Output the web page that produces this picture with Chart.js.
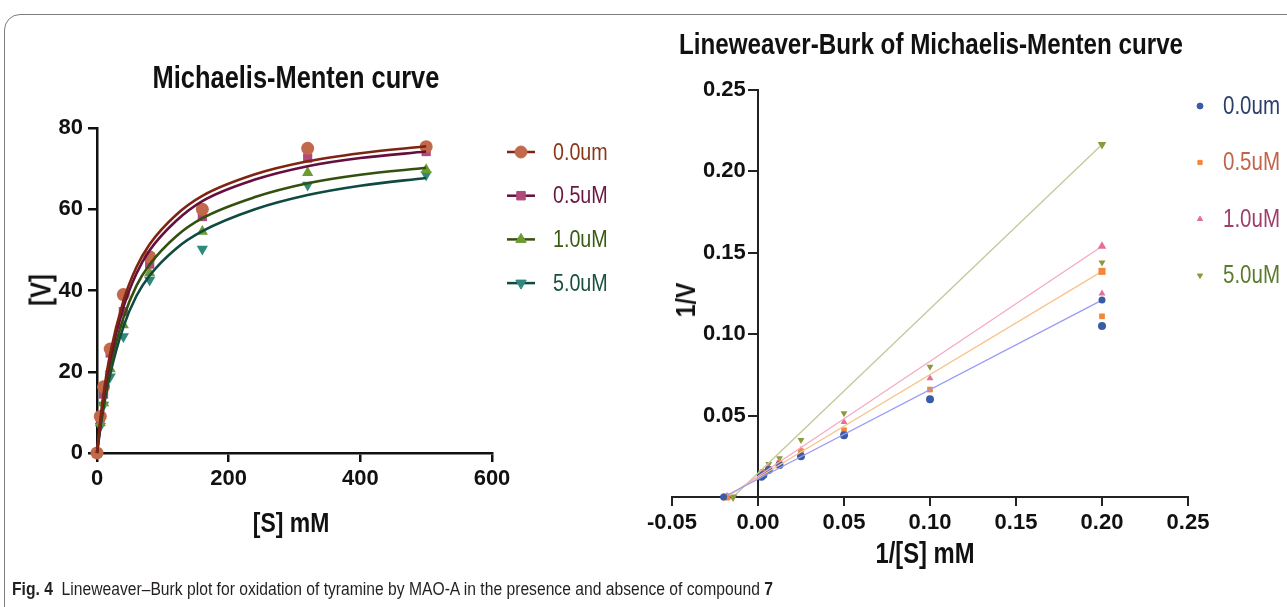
<!DOCTYPE html>
<html>
<head>
<meta charset="utf-8">
<script src="https://cdn.jsdelivr.net/npm/chart.js@4.4.1/dist/chart.umd.min.js"></script>
<style>
  body { margin: 0; background: #fff; width: 1287px; height: 607px; overflow: hidden; position: relative; }
  #frame { position: absolute; left: 4px; top: 14px; width: 1400px; height: 700px; border: 1.5px solid #7d7d7d; border-top-left-radius: 16px; box-sizing: border-box; }
  canvas { position: absolute; left: 0; top: 0; }
  .t { position: absolute; font-family: 'Liberation Sans', Arial, sans-serif; font-weight: bold; color: #111; white-space: nowrap; transform: translate(-50%, -50%) scaleX(0.82); }
  .rot { transform: translate(-50%, -50%) rotate(-90deg) scaleX(0.82); }
  #caption { position: absolute; left: 12px; top: 579px; font-family: 'Liberation Sans', Arial, sans-serif; font-size: 17.5px; color: #231f20; white-space: nowrap; transform: scaleX(0.895); transform-origin: 0 0; }
</style>
</head>
<body>
<div id="frame"></div>
<canvas id="mm" width="1287" height="607"></canvas>
<canvas id="lb" width="1287" height="607"></canvas>

<div class="t" style="left:296px; top:78px; font-size:31px;">Michaelis-Menten curve</div>
<div class="t" style="left:931px; top:44px; font-size:29.5px;">Lineweaver-Burk of Michaelis-Menten curve</div>
<div class="t rot" style="left:41px; top:290px; font-size:29px;">[V]</div>
<div class="t" style="left:291px; top:523px; font-size:28px;">[S] mM</div>
<div class="t rot" style="left:686px; top:300px; font-size:28px;">1/V</div>
<div class="t" style="left:925px; top:553px; font-size:29px;">1/[S] mM</div>
<div id="caption"><b>Fig. 4</b>&nbsp; Lineweaver–Burk plot for oxidation of tyramine by MAO-A in the presence and absence of compound <b>7</b></div>

<script>
const FONT = "'Liberation Sans', Arial, sans-serif";

const seriesNames = ['0.0um', '0.5uM', '1.0uM', '5.0uM'];

// Michaelis-Menten: measured points
const sConc = [0, 5, 10, 20, 40, 80, 160, 320, 500];
const v00 = [0, 9.0, 16.3, 25.6, 39.0, 48.3, 60.0, 75.0, 75.4];
const v05 = [0, 8.6, 14.5, 24.6, 34.8, 46.5, 58.2, 72.6, 74.2];
const v10 = [0, 7.4, 12.3, 20.7, 31.5, 44.3, 54.5, 69.0, 69.7];
const v50 = [0, 6.6, 11.8, 18.8, 28.7, 42.6, 50.2, 66.0, 68.5];

// Michaelis-Menten: fitted curves
const sFit = [0, 5, 10, 20, 40, 60, 80, 120, 160, 240, 320, 400, 500];
const fit00 = [0, 8.0, 14.6, 24.4, 37.4, 45.8, 51.4, 58.6, 63.3, 68.6, 71.8, 73.8, 75.5];
const fit05 = [0, 7.4, 13.6, 23.0, 35.8, 44.2, 49.9, 57.1, 62.0, 67.3, 70.6, 72.6, 74.2];
const fit10 = [0, 6.6, 12.2, 21.0, 33.2, 41.2, 46.4, 53.3, 57.8, 63.0, 66.4, 68.5, 70.2];
const fit50 = [0, 6.0, 11.2, 19.4, 31.0, 38.7, 43.7, 50.3, 54.6, 60.0, 63.5, 65.8, 67.7];

// Lineweaver-Burk: 1/[S] and 1/V points
const invS = [0.2, 0.1, 0.05, 0.025, 0.0125, 0.00625, 0.003125, 0.002];
const inv00 = [0.105, 0.060, 0.038, 0.025, 0.0197, 0.0166, 0.0135, 0.0125];
const inv05 = [0.111, 0.066, 0.041, 0.028, 0.0210, 0.0172, 0.0145, 0.0135];
const inv10 = [0.125, 0.073, 0.046, 0.029, 0.0217, 0.0180, 0.0150, 0.0140];
const inv50 = [0.144, 0.080, 0.0515, 0.035, 0.0238, 0.0203, 0.0160, 0.0150];

// Lineweaver-Burk fitted lines: from x-intercept to 1/[S] = 0.2
const lbX00 = [-0.0200, 0.2], lbY00 = [0, 0.121];
const lbX05 = [-0.0186, 0.2], lbY05 = [0, 0.1386];
const lbX10 = [-0.0180, 0.2], lbY10 = [0, 0.154];
const lbX50 = [-0.0145, 0.2], lbY50 = [0, 0.2165];

const yTicksMM = [0, 20, 40, 60, 80];
const xTicksMM = [0, 200, 400, 600];

const pts = (xs, ys) => xs.map((x, i) => ({ x: x, y: ys[i] }));

// left chart styles
const mmMarker = ['#c2694b', '#b14a7b', '#6c9a33', '#2e8a7b'];
const mmLine = ['#7f2410', '#660f3f', '#34500f', '#0e4a40'];
const mmText = ['#8a3618', '#6a1842', '#3a5a12', '#17503f'];
const mmStyle = [['circle', 0], ['rect', 0], ['triangle', 0], ['triangle', 180]];

// right chart styles
const lbMarker = ['#3a5ca6', '#f2873a', '#e2709b', '#8c9a3c'];
const lbLine = ['#9a9cf4', '#f8c48e', '#f5abc6', '#c6c99c'];
const lbText = ['#2b3f6b', '#c0654a', '#9e3f6a', '#5a7a2c'];

function legendPlugin(id, cfg) {
  return {
    id: id,
    afterDraw(chart) {
      const ctx = chart.ctx;
      ctx.save();
      seriesNames.forEach((name, i) => {
        const y = cfg.y0 + i * cfg.dy;
        if (cfg.lineColors) {
          ctx.strokeStyle = cfg.lineColors[i];
          ctx.lineWidth = 2.5;
          ctx.beginPath();
          ctx.moveTo(cfg.x - 14, y);
          ctx.lineTo(cfg.x + 14, y);
          ctx.stroke();
        }
        ctx.fillStyle = cfg.markers[i];
        ctx.strokeStyle = cfg.markers[i];
        ctx.lineWidth = 1;
        Chart.helpers.drawPoint(ctx, { pointStyle: cfg.styles[i][0], rotation: cfg.styles[i][1], radius: cfg.r, borderWidth: 1 }, cfg.x, y);
        ctx.save();
        ctx.translate(cfg.tx, y + 1);
        ctx.scale(0.82, 1);
        ctx.fillStyle = cfg.text[i];
        ctx.font = cfg.font;
        ctx.textAlign = 'left';
        ctx.textBaseline = 'middle';
        ctx.fillText(name, 0, 0);
        ctx.restore();
      });
      ctx.restore();
    }
  };
}

// ---------- Michaelis-Menten ----------
const mmFits = [fit00, fit05, fit10, fit50];
const mmVals = [v00, v05, v10, v50];
const mmDatasets = [];
mmFits.forEach((f, i) => {
  mmDatasets.push({
    data: pts(sFit, f), showLine: true, borderColor: mmLine[i], borderWidth: 2.6,
    pointRadius: 0, cubicInterpolationMode: 'monotone', clip: false
  });
});
mmVals.forEach((v, i) => {
  mmDatasets.push({
    data: pts(sConc, v), showLine: false, pointStyle: mmStyle[i][0], rotation: mmStyle[i][1],
    pointRadius: 6.5, backgroundColor: mmMarker[i], borderColor: mmMarker[i], borderWidth: 0, clip: false
  });
});

new Chart(document.getElementById('mm'), {
  type: 'scatter',
  data: { datasets: mmDatasets },
  options: {
    responsive: false, animation: false,
    layout: { padding: { left: 0, top: 128, right: 1287 - 492, bottom: 607 - 453 - 60 } },
    plugins: { legend: { display: false }, tooltip: { enabled: false } },
    scales: {
      x: {
        type: 'linear', min: 0, max: 600,
        afterFit: s => { s.height = 60; },
        afterBuildTicks: s => { s.ticks = xTicksMM.map(v => ({ value: v })); },
        grid: { drawOnChartArea: false, color: '#111', lineWidth: 2.5, tickLength: 9 },
        border: { color: '#111', width: 2.5 },
        ticks: { color: '#111', padding: 4, font: { family: FONT, size: 22, weight: 'bold' } }
      },
      y: {
        type: 'linear', min: 0, max: 80,
        afterFit: s => { s.width = 97; },
        afterBuildTicks: s => { s.ticks = yTicksMM.map(v => ({ value: v })); },
        grid: { drawOnChartArea: false, color: '#111', lineWidth: 2.5, tickLength: 9 },
        border: { color: '#111', width: 2.5 },
        ticks: { color: '#111', padding: 5, font: { family: FONT, size: 22, weight: 'bold' } }
      }
    }
  },
  plugins: [legendPlugin('mmLegend', {
    x: 521, tx: 553, y0: 152, dy: 43.7, r: 6, markers: mmMarker, lineColors: mmLine,
    text: mmText, styles: mmStyle, font: '24px ' + FONT
  })]
});

// ---------- Lineweaver-Burk ----------
const lbStyle = [['circle', 0], ['rect', 0], ['triangle', 0], ['triangle', 180]];
const lbXs = [lbX00, lbX05, lbX10, lbX50];
const lbYs = [lbY00, lbY05, lbY10, lbY50];
const lbVals = [inv00, inv05, inv10, inv50];
const lbDatasets = [];
lbXs.forEach((xs, i) => {
  lbDatasets.push({
    data: pts(xs, lbYs[i]), showLine: true, borderColor: lbLine[i], borderWidth: 1.4,
    pointStyle: lbStyle[i][0], rotation: lbStyle[i][1], pointRadius: i === 0 ? 3.5 : 5,
    backgroundColor: lbMarker[i], pointBorderWidth: 0, clip: false
  });
});
lbVals.forEach((v, i) => {
  lbDatasets.push({
    data: pts(invS, v), showLine: false, pointStyle: lbStyle[i][0], rotation: lbStyle[i][1],
    pointRadius: 4, backgroundColor: lbMarker[i], borderWidth: 0, clip: false
  });
});

new Chart(document.getElementById('lb'), {
  type: 'scatter',
  data: { datasets: lbDatasets },
  options: {
    responsive: false, animation: false,
    layout: { padding: { left: 672, top: 90, right: 1287 - 1188, bottom: 607 - 497 - 60 } },
    plugins: { legend: { display: false }, tooltip: { enabled: false } },
    scales: {
      x: {
        type: 'linear', min: -0.05, max: 0.25,
        afterFit: s => { s.height = 60; },
        grid: { drawOnChartArea: false, color: '#222', lineWidth: 2, tickLength: 9 },
        border: { color: '#222', width: 2 },
        ticks: {
          stepSize: 0.05, color: '#111', padding: 4,
          font: { family: FONT, size: 22, weight: 'bold' },
          callback: v => (Math.abs(v) < 1e-9 ? 0 : v).toFixed(2)
        }
      },
      y: {
        type: 'linear', min: 0, max: 0.25, position: { x: 0 },
        afterFit: s => { s.width = 0; },
        grid: { drawOnChartArea: false, color: '#222', lineWidth: 2, tickLength: 9 },
        border: { color: '#222', width: 2 },
        ticks: {
          stepSize: 0.05, color: '#111',
          font: { family: FONT, size: 22, weight: 'bold' },
          // labels of an axis placed at x = 0 sit flush on the line, so pad with spaces
          callback: v => (v === 0 ? '' : v.toFixed(2) + '  ')
        }
      }
    }
  },
  plugins: [legendPlugin('lbLegend', {
    x: 1200, tx: 1223, y0: 106, dy: 56.5, r: 3, markers: lbMarker, lineColors: null,
    text: lbText, styles: lbStyle, font: '25px ' + FONT
  })]
});
</script>
</body>
</html>
